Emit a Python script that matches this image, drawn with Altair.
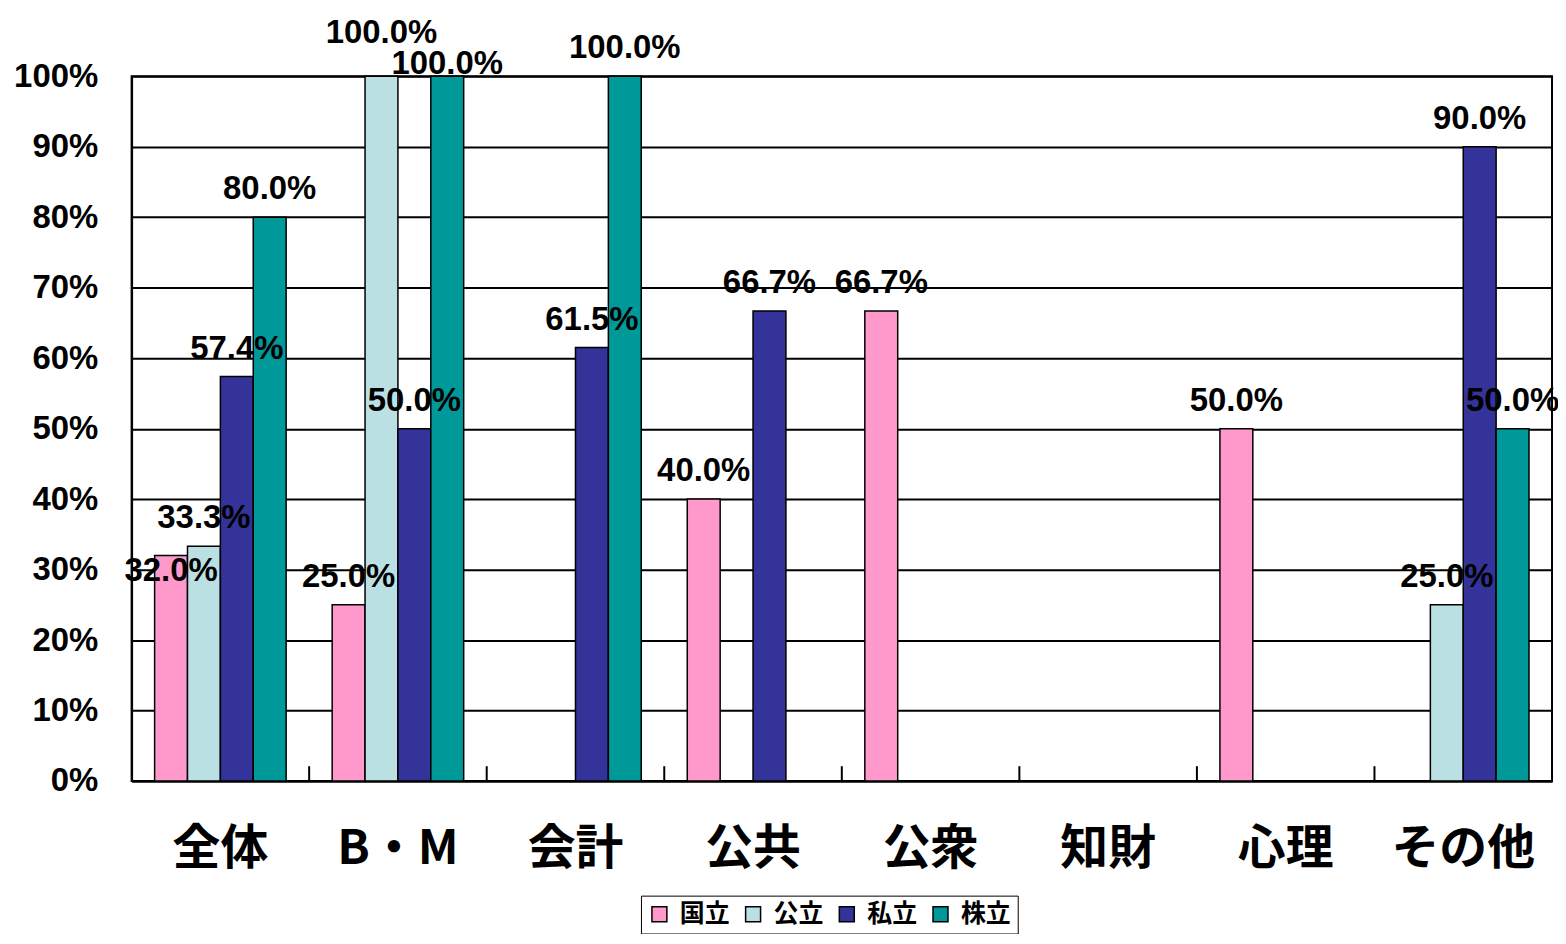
import altair as alt
import pandas as pd

categories = ["全体", "B・M", "会計", "公共", "公衆", "知財", "心理", "その他"]
series = ["国立", "公立", "私立", "株立"]
colors = ["#FF99CC", "#BBE0E3", "#333399", "#009999"]

kokuritsu = [32.0, 25.0, None, 40.0, 66.7, None, 50.0, None]
kouritsu = [33.3, 100.0, None, None, None, None, None, 25.0]
shiritsu = [57.4, 50.0, 61.5, 66.7, None, None, None, 90.0]
kaburitsu = [80.0, 100.0, 100.0, None, None, None, None, 50.0]

values_by_series = [kokuritsu, kouritsu, shiritsu, kaburitsu]

# label nudges (pixels, style only)
label_nudge = {("全体", "国立"): 26, ("B・M", "公立"): -33, ("B・M", "株立"): -2}
default_dy = -18

rows = []
for s, vals in zip(series, values_by_series):
    for c, v in zip(categories, vals):
        if v is not None:
            rows.append({"cat": c, "series": s, "value": v,
                         "label": f"{v:.1f}%",
                         "dy": label_nudge.get((c, s), default_dy)})
df = pd.DataFrame(rows)

tick_df = pd.DataFrame({"cat": categories[1:]})

xscale = alt.Scale(domain=categories, paddingInner=0, paddingOuter=0)
xoff_scale = alt.Scale(domain=series, paddingInner=0, paddingOuter=0.7)
yscale = alt.Scale(domain=[0, 100], nice=False)

bars = alt.Chart(df).mark_bar(stroke="black", strokeWidth=1.5).encode(
    x=alt.X("cat:N", sort=categories, scale=xscale,
            axis=alt.Axis(title=None, labelAngle=0, labelFont="Noto Sans CJK JP",
                          labelFontSize=48, labelFontWeight="bold", labelColor="black",
                          ticks=False, domainColor="black", domainWidth=2,
                          labelPadding=45, grid=False)),
    xOffset=alt.XOffset("series:N", scale=xoff_scale, sort=series),
    y=alt.Y("value:Q", scale=yscale,
            axis=alt.Axis(values=list(range(0, 101, 10)), labelExpr="datum.value + '%'",
                          title=None, ticks=False, grid=True, gridColor="black",
                          gridWidth=2, gridOpacity=1, domainColor="black", domainWidth=2,
                          labelFont="Liberation Sans", labelFontSize=33,
                          labelFontWeight="bold", labelColor="black", labelPadding=34)),
    color=alt.Color("series:N", sort=series,
                    scale=alt.Scale(domain=series, range=colors),
                    legend=alt.Legend(title=None, orient="none", legendX=511, legendY=822,
                                      direction="horizontal")),
)

def text_layer(dy_value):
    return alt.Chart(df).transform_filter(
        alt.datum.dy == dy_value
    ).mark_text(font="Liberation Sans", fontSize=33, fontWeight="bold",
                color="black", baseline="alphabetic", align="center", dy=dy_value).encode(
        x=alt.X("cat:N", sort=categories, scale=xscale),
        xOffset=alt.XOffset("series:N", scale=xoff_scale, sort=series),
        y=alt.Y("value:Q", scale=yscale),
        text="label:N",
    )

dys = sorted(set(df["dy"]))
texts = [text_layer(int(d)) for d in dys]

ticks = alt.Chart(tick_df).mark_rule(color="black", strokeWidth=2).encode(
    x=alt.X("cat:N", sort=categories, scale=xscale, bandPosition=0),
    y=alt.datum(0),
    y2=alt.datum(2.1),
)

chart = alt.layer(bars, ticks, *texts).properties(
    width=1425, height=707,
    padding={"left": 124, "top": 67, "right": 6, "bottom": 152},
    autosize=alt.AutoSizeParams(type="none"),
    background="white",
).configure_view(
    stroke="black", strokeWidth=2
).configure_legend(
    symbolType="square", symbolSize=225, symbolStrokeColor="black",
    symbolStrokeWidth=1.5, symbolOpacity=1,
    labelFont="Noto Sans CJK JP", labelFontSize=25, labelFontWeight="bold",
    labelColor="black", labelOffset=8, columnPadding=10,
    strokeColor="black", padding=6, fillColor="white",
)

chart.save("out.html", embed_options={"renderer": "svg", "actions": False})
